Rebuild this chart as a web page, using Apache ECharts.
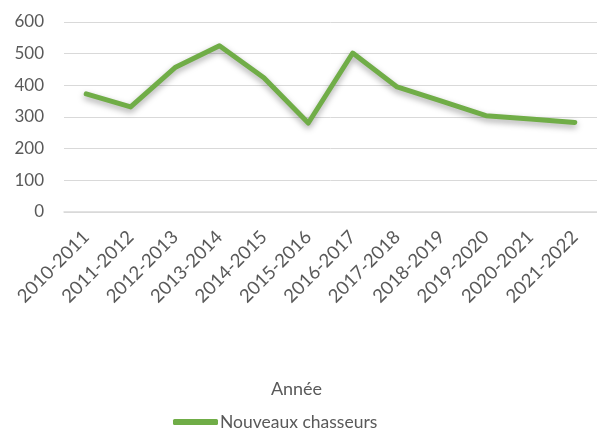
<!DOCTYPE html>
<html>
<head>
<meta charset="utf-8">
<script src="https://cdn.jsdelivr.net/npm/echarts@6/dist/echarts.min.js"></script>
<style>
    html, body { margin: 0; padding: 0; background: #fff; }
    #chart { width: 597px; height: 431px; }
</style>
</head>
<body>
<div id="chart"></div>
<script>
    // données
    var categories = ['2010-2011', '2011-2012', '2012-2013', '2013-2014', '2014-2015', '2015-2016',
        '2016-2017', '2017-2018', '2018-2019', '2019-2020', '2020-2021', '2021-2022'];
    var nouveauxChasseurs = [373, 332, 456, 525, 424, 281, 502, 395, 350, 304, 294, 283];
    var yTicks = [0, 100, 200, 300, 400, 500, 600];

    var font = 'Lato, "Noto Sans", sans-serif';
    var charts = echarts.init(document.getElementById('chart'));
    var option = {
        animation: false,
        grid: {
            left: 64,
            right: -3,
            top: 22,
            bottom: 219
        },
        legend: {
            data: ['Nouveaux chasseurs'],
            left: 173,
            top: 413,
            padding: 0,
            icon: 'roundRect',
            itemWidth: 45,
            itemHeight: 6,
            itemGap: 0,
            textStyle: {
                color: '#595959',
                fontFamily: font,
                fontSize: 17.5,
                padding: [0, 0, 0, -3]
            }
        },
        xAxis: {
            type: 'category',
            data: categories,
            name: 'Année',
            nameLocation: 'middle',
            nameGap: 168,
            nameTextStyle: {
                color: '#595959',
                fontFamily: font,
                fontSize: 18,
                padding: [0, 68, 0, 0]
            },
            axisLine: { show: true, lineStyle: { color: '#d9d9d9', width: 1.5 } },
            axisTick: { show: false },
            axisLabel: {
                interval: 0,
                rotate: 45,
                margin: 22,
                color: '#595959',
                fontFamily: font,
                fontSize: 18.5
            }
        },
        yAxis: {
            type: 'value',
            min: yTicks[0],
            max: yTicks[yTicks.length - 1],
            interval: 100,
            axisLine: { show: false },
            axisTick: { show: false },
            splitLine: { lineStyle: { color: '#d9d9d9', width: 1 } },
            axisLabel: {
                margin: 20,
                color: '#595959',
                fontFamily: font,
                fontSize: 17
            }
        },
        series: [
            {
                name: 'Nouveaux chasseurs',
                type: 'line',
                data: nouveauxChasseurs,
                showSymbol: false,
                symbol: 'none',
                color: '#70AD47',
                lineStyle: {
                    width: 5,
                    color: '#70AD47',
                    cap: 'round',
                    join: 'round',
                    shadowBlur: 6,
                    shadowColor: 'rgba(0,0,0,0.35)',
                    shadowOffsetY: 3
                }
            }
        ]
    };
    //渲染图表
    if (option && typeof option === "object") {
        charts.setOption(option, true);
    }
</script>
</body>
</html>
